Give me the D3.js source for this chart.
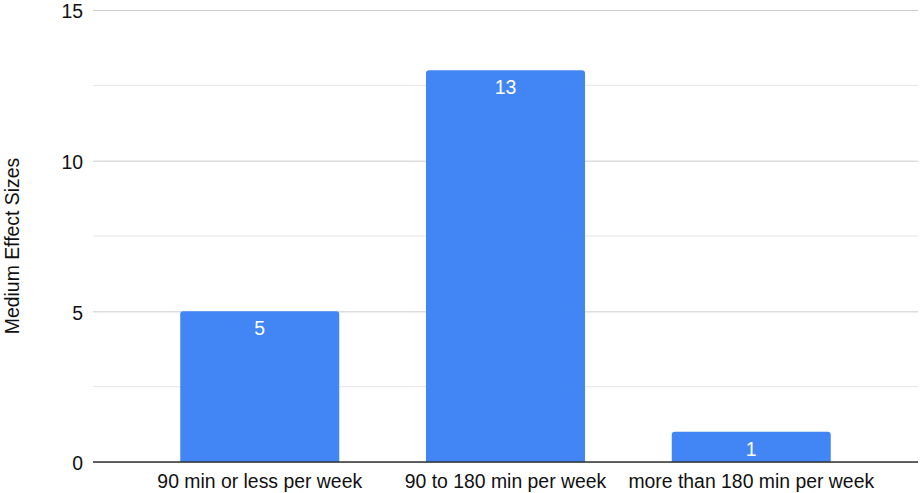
<!DOCTYPE html>
<html>
<head>
<meta charset="utf-8">
<script src="https://cdn.jsdelivr.net/npm/d3@7"></script>
<style>
  html, body { margin: 0; padding: 0; background: #fff; }
  svg { display: block; font-family: "Liberation Sans", Arial, Helvetica, sans-serif; }
</style>
</head>
<body>
<svg id="chart" width="920" height="493"></svg>
<script>
// Chart data
const categories = ["90 min or less per week", "90 to 180 min per week", "more than 180 min per week"];
const values = [5, 13, 1];
const majorTicks = [0, 5, 10, 15];
const minorTicks = [2.5, 7.5, 12.5];
const yTitle = "Medium Effect Sizes";

const plot = { left: 93, right: 918, top: 10, bottom: 462 };
const fontSize = 19.4;
const textColor = "#111";

const svg = d3.select("#chart");

const x = d3.scaleBand()
  .domain(categories)
  .range([plot.left, plot.right])
  .paddingInner(0.353)
  .paddingOuter(0.355);

const y = d3.scaleLinear()
  .domain([0, 15])
  .range([plot.bottom, plot.top]);

// Minor gridlines
svg.append("g")
  .selectAll("line")
  .data(minorTicks)
  .join("line")
  .attr("x1", plot.left).attr("x2", plot.right)
  .attr("y1", d => y(d)).attr("y2", d => y(d))
  .attr("stroke", "#e5e5e5").attr("stroke-width", 1);

// Major gridlines + labels via axis
const yAxis = d3.axisLeft(y)
  .tickValues(majorTicks)
  .tickSize(-(plot.right - plot.left))
  .tickPadding(10)
  .tickFormat(d3.format("d"));

const gy = svg.append("g")
  .attr("transform", `translate(${plot.left},0)`)
  .call(yAxis);
gy.select(".domain").remove();
gy.selectAll(".tick line").attr("stroke", "#cccccc").attr("stroke-width", 1);
gy.selectAll(".tick text")
  .attr("font-size", fontSize)
  .attr("fill", textColor)
  .attr("dy", "0.4em")
  .style("font-family", "'Liberation Sans', Arial, sans-serif");

// Bars with slightly rounded top corners
function barPath(x0, y0, w, h, r) {
  r = Math.min(r, h, w / 2);
  return `M${x0},${y0 + h}V${y0 + r}Q${x0},${y0} ${x0 + r},${y0}H${x0 + w - r}Q${x0 + w},${y0} ${x0 + w},${y0 + r}V${y0 + h}Z`;
}

const rows = categories.map((c, i) => ({ c, v: values[i] }));

svg.append("g")
  .selectAll("path")
  .data(rows)
  .join("path")
  .attr("d", d => barPath(x(d.c), y(d.v), x.bandwidth(), y(0) - y(d.v), 3))
  .attr("fill", "#4285f4");

// Value labels inside bars
svg.append("g")
  .selectAll("text")
  .data(rows)
  .join("text")
  .attr("x", d => x(d.c) + x.bandwidth() / 2)
  .attr("y", d => y(d.v) + 24)
  .attr("text-anchor", "middle")
  .attr("font-size", fontSize)
  .attr("fill", "#ffffff")
  .text(d => d.v);

// Baseline
svg.append("line")
  .attr("x1", plot.left).attr("x2", plot.right)
  .attr("y1", y(0)).attr("y2", y(0))
  .attr("stroke", "#333333").attr("stroke-width", 1.5);

// Category labels
svg.append("g")
  .selectAll("text")
  .data(categories)
  .join("text")
  .attr("x", d => x(d) + x.bandwidth() / 2)
  .attr("y", 488)
  .attr("text-anchor", "middle")
  .attr("font-size", fontSize)
  .attr("fill", textColor)
  .text(d => d);

// Y axis title
svg.append("text")
  .attr("transform", `translate(19,246) rotate(-90)`)
  .attr("text-anchor", "middle")
  .attr("font-size", fontSize)
  .attr("fill", textColor)
  .text(yTitle);
</script>
</body>
</html>
